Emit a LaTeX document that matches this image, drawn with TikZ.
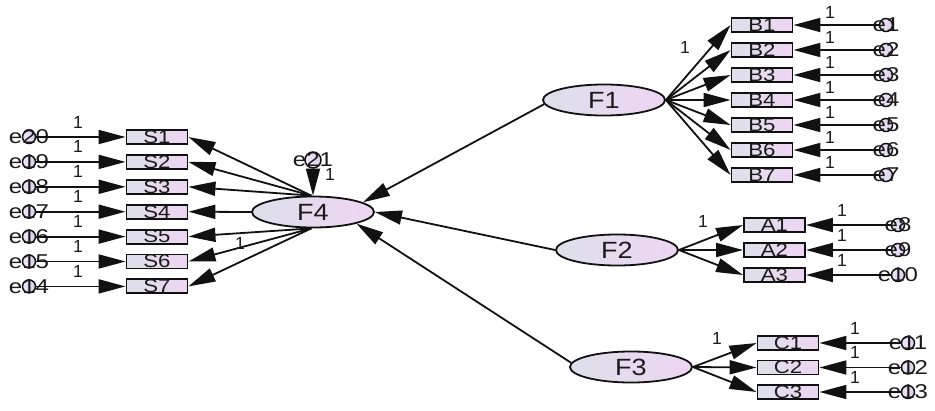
\documentclass[tikz,border=0pt]{standalone}
\usepackage{fontspec}
\setmainfont{Liberation Sans}
\newfontfamily\latfont[FakeStretch=1.15]{Liberation Sans}
\newfontfamily\obsfont[FakeStretch=1.2]{Liberation Sans}
\newfontfamily\errfont[FakeStretch=1.2]{Liberation Sans}
\usetikzlibrary{shapes.geometric,arrows.meta}
\definecolor{ink}{HTML}{1A1A1A}
\definecolor{edge}{HTML}{111111}
\definecolor{fillL}{HTML}{DDE0EA}
\definecolor{fillR}{HTML}{EDD5F2}
\definecolor{errfill}{HTML}{DCCFEE}
\tikzset{
  obs/.style={rectangle, draw=edge, line width=1.9pt, left color=fillL, right color=fillR,
    minimum width=61pt, minimum height=14pt, inner sep=0pt, text=ink,
    font=\obsfont\fontsize{18.5}{19}\selectfont},
  lat/.style={ellipse, draw=edge, line width=1.8pt, left color=fillL, right color=fillR,
    minimum width=122pt, minimum height=31pt, inner sep=0pt, text=ink,
    font=\latfont\fontsize{23.5}{25}\selectfont},
  err/.style={circle, draw=edge, line width=1.5pt, left color=errfill!50!white, right color=errfill,
    minimum size=13pt, inner sep=0pt},
  etxt/.style={inner sep=0pt, text=ink, font=\errfont\fontsize{20}{21}\selectfont},
  one/.style={inner sep=0pt, text=ink, font=\fontsize{17.5}{18}\selectfont},
  arr/.style={draw=edge, line width=1.8pt, -{Triangle[length=27pt,width=14pt]}},
}
\begin{document}
\begin{tikzpicture}[x=1pt,y=-1pt]
\useasboundingbox (0,0) rectangle (935,410);

% latent factors
\node[lat] (F4) at (313,212) {F4};
\node[lat] (F1) at (604,100) {F1};
\node[lat] (F2) at (617,250) {F2};
\node[lat] (F3) at (631,367) {F3};

% residual of F4
\node[err, minimum size=16pt] (e21) at (313,160) {};
\node[etxt] at (e21) {e21};
\draw[arr] (e21) -- (F4.north);
\node[one] at (330,174) {1};

% S indicators with their errors
\foreach \n [count=\i] in {20,19,18,17,16,15,14} {
  \pgfmathsetmacro\yy{137+24.9*(\i-1)}
  \node[obs] (S\i) at (157,\yy) {S\i};
  \node[err] (e\n) at (29,\yy) {};
  \node[etxt] at (e\n) {e\n};
  \draw[arr] (e\n) -- (S\i);
  \node[one] at (78,\yy-15) {1};
}
\foreach \i in {1,2,3} \draw[arr] (F4.96) -- (S\i.east);
\draw[arr] (F4.west) -- (S4.east);
\foreach \i in {5,6,7} \draw[arr] (F4.264) -- (S\i.east);
\node[one] at (240,243) {1};

% B indicators
\foreach \i in {1,...,7} {
  \pgfmathsetmacro\yy{25+25*(\i-1)}
  \node[obs] (B\i) at (762,\yy) {B\i};
  \node[err] (e\i) at (886,\yy) {};
  \node[etxt] at (e\i) {e\i};
  \draw[arr] (e\i) -- (B\i);
  \draw[arr] (F1.east) -- (B\i.west);
  \node[one] at (830,\yy-13) {1};
}
\node[one] at (685,47) {1};

% A indicators
\foreach \i/\n in {1/8,2/9,3/10} {
  \pgfmathsetmacro\yy{225+25*(\i-1)}
  \node[obs] (A\i) at (774.5,\yy) {A\i};
  \node[err] (e\n) at (898,\yy) {};
  \node[etxt] at (e\n) {e\n};
  \draw[arr] (e\n) -- (A\i);
  \draw[arr] (F2.east) -- (A\i.west);
  \node[one] at (842,\yy-15) {1};
}
\node[one] at (703,221) {1};

% C indicators
\foreach \i/\n in {1/11,2/12,3/13} {
  \pgfmathsetmacro\yy{343+24.5*(\i-1)}
  \node[obs] (C\i) at (788,\yy) {C\i};
  \node[err] (e\n) at (908,\yy) {};
  \node[etxt] at (e\n) {e\n};
  \draw[arr] (e\n) -- (C\i);
  \draw[arr] (F3.east) -- (C\i.west);
  \node[one] at (855,\yy-15) {1};
}
\node[one] at (717,338) {1};

% structural paths into F4
\draw[arr] (F1.184) -- (F4.11);
\draw[arr] (F2.west) -- (F4.east);
\draw[arr] (F3.176) -- (F4.-15);
\end{tikzpicture}
\end{document}
